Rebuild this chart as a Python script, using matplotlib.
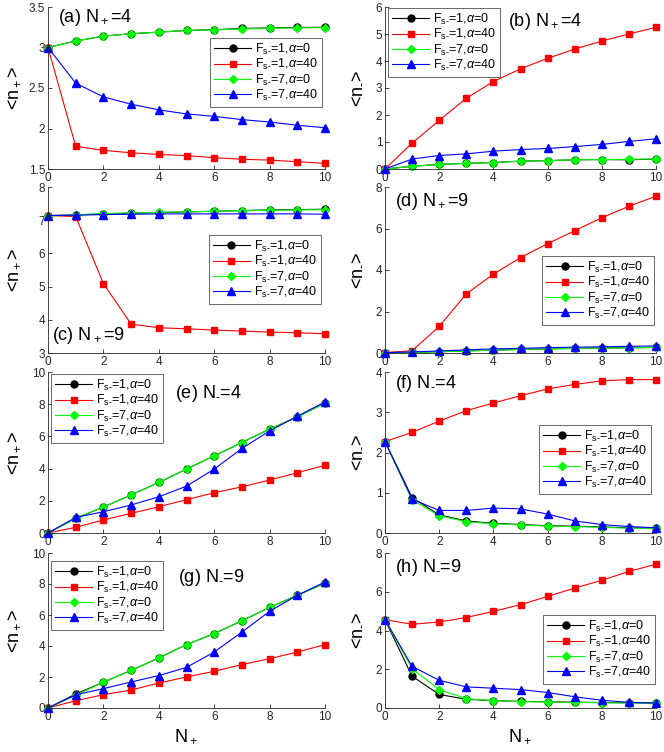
import matplotlib
matplotlib.use("Agg")
import matplotlib.pyplot as plt
import numpy as np

plt.rcParams['font.family'] = ['Liberation Sans', 'DejaVu Sans']
plt.rcParams['mathtext.fontset'] = 'custom'
plt.rcParams['mathtext.rm'] = 'Liberation Sans'
plt.rcParams['mathtext.it'] = 'Liberation Sans:italic'
plt.rcParams['mathtext.bf'] = 'Liberation Sans:bold'

x = list(range(11))

# (a) N+=4, <n+> vs N-
a_black = [3.0, 3.08, 3.14, 3.17, 3.19, 3.21, 3.22, 3.235, 3.242, 3.247, 3.25]
a_red   = [3.0, 1.78, 1.73, 1.70, 1.68, 1.665, 1.64, 1.62, 1.61, 1.59, 1.57]
a_green = [3.0, 3.08, 3.14, 3.17, 3.19, 3.21, 3.22, 3.229, 3.238, 3.242, 3.245]
a_blue  = [3.0, 2.56, 2.39, 2.30, 2.23, 2.18, 2.15, 2.11, 2.08, 2.04, 2.01]

# (b) N+=4, <n-> vs N-
b_black = [0.0, 0.10, 0.17, 0.21, 0.24, 0.29, 0.31, 0.34, 0.35, 0.34, 0.37]
b_red   = [0.0, 0.96, 1.80, 2.62, 3.24, 3.71, 4.10, 4.44, 4.74, 5.00, 5.25]
b_green = [0.0, 0.10, 0.17, 0.21, 0.24, 0.29, 0.31, 0.34, 0.35, 0.36, 0.37]
b_blue  = [0.0, 0.37, 0.50, 0.56, 0.66, 0.72, 0.76, 0.83, 0.91, 1.02, 1.12]

# (c) N+=9, <n+> vs N-
c_black = [7.14, 7.16, 7.19, 7.21, 7.23, 7.25, 7.27, 7.29, 7.31, 7.32, 7.33]
c_red   = [7.14, 7.11, 5.09, 3.87, 3.76, 3.73, 3.69, 3.66, 3.63, 3.61, 3.58]
c_green = [7.13, 7.16, 7.20, 7.22, 7.24, 7.25, 7.27, 7.29, 7.30, 7.31, 7.32]
c_blue  = [7.14, 7.15, 7.17, 7.18, 7.19, 7.19, 7.19, 7.19, 7.19, 7.19, 7.18]

# (d) N+=9, <n-> vs N-
d_black = [0.01, 0.03, 0.06, 0.10, 0.14, 0.17, 0.20, 0.22, 0.24, 0.25, 0.27]
d_red   = [0.02, 0.11, 1.28, 2.85, 3.80, 4.60, 5.27, 5.89, 6.52, 7.07, 7.56]
d_green = [0.01, 0.03, 0.06, 0.10, 0.14, 0.17, 0.20, 0.22, 0.24, 0.25, 0.27]
d_blue  = [0.02, 0.05, 0.10, 0.15, 0.20, 0.22, 0.26, 0.28, 0.30, 0.32, 0.34]

# (e) N-=4, <n+> vs N+
e_black = [0.0, 0.91, 1.61, 2.36, 3.14, 3.97, 4.79, 5.62, 6.45, 7.21, 8.08]
e_red   = [0.0, 0.35, 0.81, 1.22, 1.63, 2.07, 2.50, 2.87, 3.29, 3.74, 4.21]
e_green = [0.0, 0.91, 1.61, 2.36, 3.14, 3.97, 4.79, 5.62, 6.45, 7.21, 8.08]
e_blue  = [0.0, 0.97, 1.32, 1.74, 2.25, 2.91, 3.97, 5.25, 6.34, 7.25, 8.14]

# (f) N-=4, <n-> vs N+
f_black = [2.27, 0.88, 0.45, 0.30, 0.24, 0.21, 0.18, 0.17, 0.15, 0.13, 0.12]
f_red   = [2.27, 2.50, 2.78, 3.04, 3.23, 3.41, 3.58, 3.69, 3.78, 3.81, 3.81]
f_green = [2.27, 0.82, 0.43, 0.28, 0.23, 0.20, 0.17, 0.16, 0.14, 0.12, 0.12]
f_blue  = [2.27, 0.84, 0.56, 0.56, 0.62, 0.60, 0.47, 0.30, 0.21, 0.16, 0.13]

# (g) N-=9, <n+> vs N+
g_black = [0.0, 0.90, 1.66, 2.43, 3.23, 4.09, 4.80, 5.63, 6.49, 7.27, 8.06]
g_red   = [0.0, 0.47, 0.86, 1.16, 1.61, 2.00, 2.37, 2.80, 3.18, 3.61, 4.09]
g_green = [0.0, 0.82, 1.66, 2.43, 3.23, 4.09, 4.80, 5.63, 6.49, 7.27, 8.06]
g_blue  = [0.0, 0.85, 1.25, 1.68, 2.09, 2.62, 3.61, 4.90, 6.24, 7.27, 8.13]

# (h) N-=9, <n-> vs N+
h_black = [4.56, 1.64, 0.70, 0.45, 0.38, 0.34, 0.32, 0.30, 0.28, 0.27, 0.26]
h_red   = [4.56, 4.32, 4.44, 4.67, 4.99, 5.33, 5.76, 6.19, 6.59, 7.05, 7.42]
h_green = [4.56, 2.03, 0.95, 0.48, 0.38, 0.33, 0.31, 0.29, 0.27, 0.26, 0.25]
h_blue  = [4.56, 2.15, 1.43, 1.09, 1.02, 0.95, 0.80, 0.58, 0.40, 0.29, 0.25]

SUB_M = '$_{\\text{-}}$'
panels = [
    ('(a) N$_+$=4', a_black, a_red, a_green, a_blue, (1.5, 3.5), 0.5, '<n$_+$>'),
    ('(b) N$_+$=4', b_black, b_red, b_green, b_blue, (0, 6), 1, '<n' + SUB_M + '>'),
    ('(c) N$_+$=9', c_black, c_red, c_green, c_blue, (3, 8), 1, '<n$_+$>'),
    ('(d) N$_+$=9', d_black, d_red, d_green, d_blue, (0, 8), 2, '<n' + SUB_M + '>'),
    ('(e) N' + SUB_M + '=4', e_black, e_red, e_green, e_blue, (0, 10), 2, '<n$_+$>'),
    ('(f) N' + SUB_M + '=4', f_black, f_red, f_green, f_blue, (0, 4), 1, '<n' + SUB_M + '>'),
    ('(g) N' + SUB_M + '=9', g_black, g_red, g_green, g_blue, (0, 10), 2, '<n$_+$>'),
    ('(h) N' + SUB_M + '=9', h_black, h_red, h_green, h_blue, (0, 8), 2, '<n' + SUB_M + '>'),
]

labels = ['F$_{\\text{s-}}$=1,$\\alpha$=0', 'F$_{\\text{s-}}$=1,$\\alpha$=40',
          'F$_{\\text{s-}}$=7,$\\alpha$=0', 'F$_{\\text{s-}}$=7,$\\alpha$=40']

W, H = 664, 752
fig = plt.figure(figsize=(W / 100, H / 100), dpi=100)

col_x = [(48, 325), (385, 656)]
row_y = [(7, 169), (187, 353), (372, 533), (553, 708)]
leg_pos = [(210, 38), (388, 8), (209, 235), (542, 256), (51, 374), (539, 425), (51, 561), (543, 615)]
txt_pos = [(58, 18), (508, 22), (52, 335), (395, 202), (175, 393), (395, 383), (178, 578), (395, 568)]
ylab_x = [14, 355]

axcol = '#262626'
styles = [('k', 'o', 5.0), ('r', 's', 4.6), ('#00ff00', 'D', 4.3), ('b', '^', 5.6)]

for i, (title, bk, rd, gr, bl, ylim, ystep, ylab) in enumerate(panels):
    r, c = divmod(i, 2)
    x0, x1 = col_x[c]
    y0, y1 = row_y[r]
    ax = fig.add_axes([x0 / W, 1 - y1 / H, (x1 - x0) / W, (y1 - y0) / H])
    for (col, mk, ms), ys, lab in zip(styles, [bk, rd, gr, bl], labels):
        ax.plot(x, ys, color=col, marker=mk, markersize=ms, markerfacecolor=col,
                markeredgecolor=col, linewidth=0.8, label=lab, clip_on=False)
    ax.set_xlim(0, 10)
    ax.set_ylim(*ylim)
    ax.set_xticks(range(0, 11, 2))
    ax.set_yticks(np.arange(ylim[0], ylim[1] + 1e-9, ystep))
    ax.yaxis.set_major_formatter(matplotlib.ticker.FuncFormatter(lambda v, p: f'{v:g}'))
    for s in ['top', 'right']:
        ax.spines[s].set_visible(False)
    for s in ['left', 'bottom']:
        ax.spines[s].set_color(axcol)
        ax.spines[s].set_linewidth(0.6)
    ax.tick_params(direction='in', length=3, width=0.6, colors=axcol, labelsize=8.5, pad=2)
    lx, ly = leg_pos[i]
    leg = ax.legend(loc='upper left', bbox_to_anchor=(lx / W, 1 - ly / H),
                    bbox_transform=fig.transFigure, fontsize=9, frameon=True,
                    fancybox=False, handlelength=3.0, handletextpad=0.3,
                    borderpad=0.3, labelspacing=0.02, borderaxespad=0)
    leg.get_frame().set_edgecolor(axcol)
    leg.get_frame().set_linewidth(0.6)
    tx, ty = txt_pos[i]
    fig.text(tx / W, 1 - ty / H, title, fontsize=13, va='center', ha='left', color='k')
    fig.text(ylab_x[c] / W, 1 - ((y0 + y1) / 2) / H, ylab, fontsize=13, rotation=90,
             va='center', ha='center', color='k')
    if r == 3:
        ax.set_xlabel('N$_+$', fontsize=13, labelpad=3)

fig.savefig('out.png', dpi=100)
